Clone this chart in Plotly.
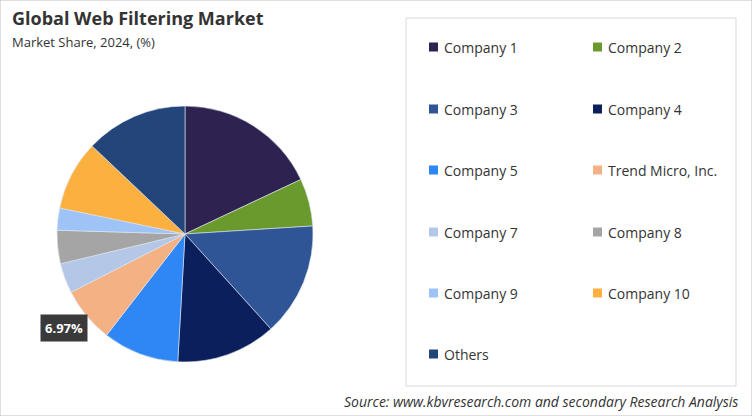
import plotly.graph_objects as go

labels = ["Company 1", "Company 2", "Company 3", "Company 4", "Company 5",
          "Trend Micro, Inc.", "Company 7", "Company 8", "Company 9", "Company 10", "Others"]
shares = [18.0, 6.0, 14.3, 12.6, 9.6, 6.97, 3.8, 4.2, 2.8, 8.8, 12.93]
colors = ["#2e2350", "#6a9a2e", "#2f5597", "#0a1f5c", "#2f86f5", "#f4b183",
          "#b4c7e7", "#a5a5a5", "#9dc3f7", "#fbb040", "#24457a"]

W, H = 752, 416

fig = go.Figure(go.Pie(
    labels=labels, values=shares, sort=False, direction="clockwise", rotation=0,
    marker=dict(colors=colors, line=dict(color="#dfe6f0", width=0.6)),
    textinfo="none", hoverinfo="label+percent", showlegend=False,
    domain=dict(x=[57 / W, 313 / W], y=[54 / H, 310 / H]),
))

# label for Trend Micro slice
fig.add_annotation(x=40 / W, y=1 - 328 / H, xref="paper", yref="paper",
                   text="<b>%.2f%%</b>" % shares[5], showarrow=False,
                   xanchor="left", yanchor="middle",
                   font=dict(color="white", size=13, family="Open Sans"),
                   bgcolor="#3a3a3a", borderpad=4)

# legend box
fig.add_shape(type="rect", xref="paper", yref="paper",
              x0=406 / W, x1=736 / W, y0=1 - 386 / H, y1=1 - 18 / H,
              line=dict(color="#d9d9d9", width=1), fillcolor="white")
row_y = [47, 109, 170, 232, 293, 354]
col_x = [429, 593]
for i, (lab, col) in enumerate(zip(labels, colors)):
    px_x = col_x[i % 2]
    px_y = row_y[i // 2]
    fig.add_shape(type="rect", xref="paper", yref="paper",
                  x0=px_x / W, x1=(px_x + 9) / W,
                  y0=1 - (px_y + 4.5) / H, y1=1 - (px_y - 4.5) / H,
                  line=dict(width=0), fillcolor=col)
    fig.add_annotation(x=(px_x + 13) / W, y=1 - px_y / H, xref="paper", yref="paper",
                       text=lab, showarrow=False, xanchor="left", yanchor="middle",
                       font=dict(size=14, color="#333333", family="Open Sans"))

fig.add_annotation(x=10 / W, y=1 - 18 / H, xref="paper", yref="paper",
                   text="<b>Global Web Filtering Market</b>", showarrow=False,
                   xanchor="left", yanchor="middle",
                   font=dict(size=18, color="#333333", family="Open Sans"))
fig.add_annotation(x=10 / W, y=1 - 42 / H, xref="paper", yref="paper",
                   text="Market Share, 2024, (%)", showarrow=False,
                   xanchor="left", yanchor="middle",
                   font=dict(size=13, color="#333333", family="Open Sans"))
fig.add_annotation(x=740 / W, y=1 - 401 / H, xref="paper", yref="paper",
                   text="<i>Source: www.kbvresearch.com and secondary Research Analysis</i>",
                   showarrow=False, xanchor="right", yanchor="middle",
                   font=dict(size=14, color="#333333", family="Open Sans"))
fig.add_shape(type="rect", xref="paper", yref="paper", x0=0, x1=1, y0=0, y1=1,
              line=dict(color="#bfbfbf", width=1))

fig.update_layout(width=W, height=H, margin=dict(l=0, r=0, t=0, b=0),
                  paper_bgcolor="white", plot_bgcolor="white")
fig.write_html("out.html", config=dict(displayModeBar=False),
               post_script="document.body.style.margin='0';document.body.style.overflow='hidden';")
